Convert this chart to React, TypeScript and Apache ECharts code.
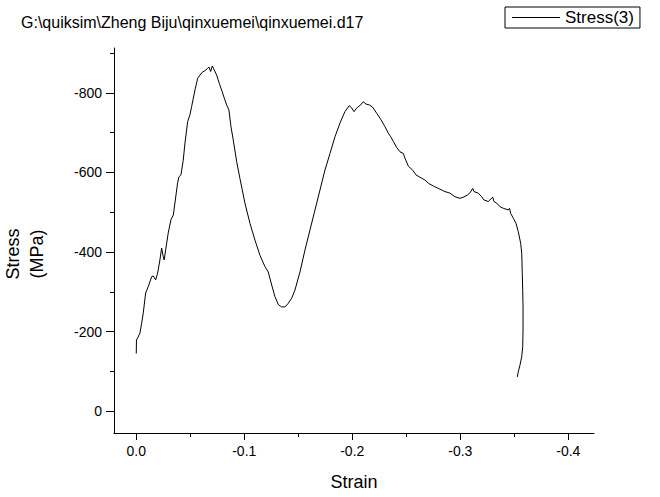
import { useEffect, useRef } from "react";
import * as echarts from "echarts";

const titleText = "G:\\quiksim\\Zheng Biju\\qinxuemei\\qinxuemei.d17";
const seriesName = "Stress(3)";
const xAxisName = "Strain";
const yAxisName = "Stress\n(MPa)";

const strain = [
  0.0, -0.0002, -0.0013, -0.0034, -0.005, -0.0065, -0.0087, -0.0111, -0.0143, -0.0157,
  -0.018, -0.0198, -0.0219, -0.0235, -0.025, -0.0259, -0.0272, -0.0296, -0.0321, -0.0343,
  -0.0358, -0.0383, -0.0395, -0.0414, -0.0435, -0.0451, -0.0476, -0.0497, -0.0513, -0.0544,
  -0.0569, -0.059, -0.0611, -0.0636, -0.0661, -0.0673, -0.0689, -0.0704, -0.0722, -0.0744,
  -0.0769, -0.0796, -0.0815, -0.0837, -0.0858, -0.0877, -0.0898, -0.093, -0.096, -0.1006,
  -0.1053, -0.1099, -0.1145, -0.1192, -0.1222, -0.1254, -0.1284, -0.1315, -0.1346, -0.1377,
  -0.1407, -0.1439, -0.1469, -0.1516, -0.1562, -0.1608, -0.1655, -0.1701, -0.1747, -0.1794,
  -0.184, -0.1886, -0.1932, -0.1972, -0.1993, -0.2016, -0.2041, -0.2078, -0.2102, -0.2127,
  -0.2157, -0.2189, -0.2226, -0.2263, -0.2303, -0.2333, -0.2356, -0.238, -0.2411, -0.2442,
  -0.2472, -0.2488, -0.2519, -0.2559, -0.259, -0.2627, -0.2673, -0.2704, -0.275, -0.2796,
  -0.2828, -0.2858, -0.2905, -0.2951, -0.2997, -0.3028, -0.3065, -0.309, -0.3115, -0.3127,
  -0.3167, -0.3198, -0.3219, -0.3259, -0.33, -0.3312, -0.3337, -0.3368, -0.3398, -0.3444,
  -0.3456, -0.3467, -0.3491, -0.3516, -0.3537, -0.3559, -0.3569, -0.3574, -0.3578, -0.3581,
  -0.3581, -0.3578, -0.3569, -0.3553, -0.3537, -0.3528,
];

const stress = [
  -145, -179, -184, -196, -221, -247, -297, -313, -338, -340,
  -330, -347, -380, -410, -388, -380, -405, -448, -481, -493,
  -523, -574, -589, -594, -631, -674, -728, -745, -766, -808,
  -837, -845, -852, -856, -862, -865, -854, -868, -858, -845,
  -824, -803, -787, -770, -757, -715, -682, -627, -585, -523,
  -472, -430, -392, -363, -350, -317, -288, -268, -262, -262,
  -271, -284, -304, -350, -405, -455, -506, -556, -606, -648,
  -690, -724, -753, -768, -763, -753, -762, -770, -778, -772,
  -770, -764, -749, -734, -715, -699, -690, -678, -663, -652,
  -648, -636, -616, -606, -594, -588, -581, -573, -566, -560,
  -556, -552, -548, -539, -535, -538, -543, -549, -560, -552,
  -548, -539, -531, -527, -538, -527, -523, -514, -510, -506,
  -510, -497, -485, -472, -451, -422, -397, -346, -304, -262,
  -204, -162, -137, -116, -99, -86,
];

const xTickValues = [0, -0.1, -0.2, -0.3, -0.4];
const xMinorTickValues = [-0.05, -0.15, -0.25, -0.35];
const yTickValues = [0, -200, -400, -600, -800];
const yMinorTickValues = [-100, -300, -500, -700, -900];

const X_MIN = -0.4238;
const X_MAX = 0.0206;
const Y_MIN = -913;
const Y_MAX = 55;

const FONT = "'Liberation Sans', Arial, sans-serif";

export default function App() {
  const ref = useRef<HTMLDivElement>(null);
  useEffect(() => {
    if (!ref.current) return;
    const chart = echarts.init(ref.current, null, { renderer: "svg" });
    const axisLineStyle = { color: "#000", width: 1 };
    chart.setOption({
      animation: false,
      backgroundColor: "#fff",
      textStyle: { fontFamily: FONT },
      title: {
        text: titleText,
        left: 16,
        top: 9,
        textStyle: { fontSize: 16, fontWeight: "normal", color: "#000", fontFamily: FONT },
      },
      legend: {
        left: 505,
        top: 7,
        orient: "horizontal",
        borderColor: "#000",
        borderWidth: 1,
        borderRadius: 0,
        padding: [2, 6, 2, 7],
        itemWidth: 48,
        itemHeight: 1,
        textStyle: { fontSize: 17, color: "#000", fontFamily: FONT },
        data: [{ name: seriesName, icon: "rect" }],
      },
      graphic: [
        {
          type: "text",
          x: 25,
          y: 254,
          rotation: Math.PI / 2,
          style: {
            text: yAxisName,
            fontSize: 18,
            lineHeight: 24,
            fontFamily: FONT,
            fill: "#000",
            align: "center",
            verticalAlign: "middle",
          },
        },
      ],
      grid: { left: 114, right: 66, top: 48, bottom: 64 },
      xAxis: [
        {
          type: "value",
          inverse: true,
          min: X_MIN,
          max: X_MAX,
          position: "bottom",
          name: xAxisName,
          nameLocation: "middle",
          nameGap: 40,
          nameTextStyle: { fontSize: 18, color: "#000", fontFamily: FONT },
          axisLine: { show: true, onZero: false, lineStyle: axisLineStyle },
          axisTick: { show: true, length: 7, inside: false, customValues: xTickValues, lineStyle: axisLineStyle },
          axisLabel: {
            show: true,
            margin: 11,
            fontSize: 14,
            color: "#000",
            fontFamily: FONT,
            customValues: xTickValues,
            formatter: (v: number) => (v === 0 ? "0.0" : v.toFixed(1)),
          },
          splitLine: { show: false },
        },
        {
          type: "value",
          inverse: true,
          min: X_MIN,
          max: X_MAX,
          position: "bottom",
          offset: 0,
          axisLine: { show: false, onZero: false },
          axisTick: { show: true, length: 4, customValues: xMinorTickValues, lineStyle: axisLineStyle },
          axisLabel: { show: false },
          splitLine: { show: false },
        },
      ],
      yAxis: [
        {
          type: "value",
          inverse: true,
          min: Y_MIN,
          max: Y_MAX,
          position: "left",
          axisLine: { show: true, onZero: false, lineStyle: axisLineStyle },
          axisTick: { show: true, length: 8, customValues: yTickValues, lineStyle: axisLineStyle },
          axisLabel: {
            show: true,
            margin: 12,
            fontSize: 14,
            color: "#000",
            fontFamily: FONT,
            customValues: yTickValues,
            formatter: (v: number) => String(v),
          },
          splitLine: { show: false },
        },
        {
          type: "value",
          inverse: true,
          min: Y_MIN,
          max: Y_MAX,
          position: "left",
          offset: 0,
          axisLine: { show: false, onZero: false },
          axisTick: { show: true, length: 4, customValues: yMinorTickValues, lineStyle: axisLineStyle },
          axisLabel: { show: false },
          splitLine: { show: false },
        },
      ],
      series: [
        {
          name: seriesName,
          type: "line",
          xAxisIndex: 0,
          yAxisIndex: 0,
          symbol: "none",
          showSymbol: false,
          lineStyle: { color: "#000", width: 1 },
          itemStyle: { color: "#000" },
          data: strain.map((s, i) => [s, stress[i]]),
        },
      ],
    });
    return () => chart.dispose();
  }, []);
  return (
    <div
      ref={ref}
      style={{ position: "absolute", left: 0, top: 0, width: 660, height: 497, background: "#fff" }}
    />
  );
}
